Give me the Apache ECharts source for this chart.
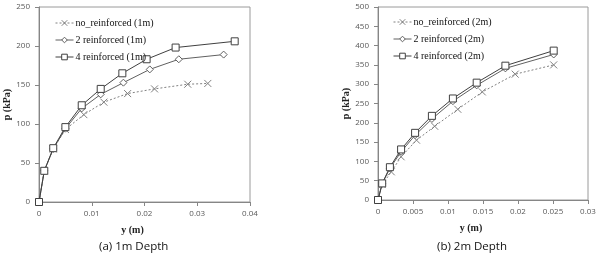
<!DOCTYPE html>
<html><head><meta charset="utf-8">
<script src="https://cdn.jsdelivr.net/npm/echarts@6/dist/echarts.min.js"></script>
<style>html,body{margin:0;padding:0;background:#fff}#c{width:600px;height:258px}</style>
</head><body><div id="c"></div>
<script>
// ---- data: (a) 1m depth ----
const a_no_x = [0, 0.001, 0.0027, 0.005, 0.0085, 0.0123, 0.0168, 0.0219, 0.0282, 0.032];
const a_no_y = [0, 40, 68, 93, 112, 128, 139, 145, 151, 152];
const a_2_x = [0, 0.001, 0.0027, 0.005, 0.0081, 0.0117, 0.016, 0.021, 0.0265, 0.035];
const a_2_y = [0, 40, 68, 94, 120, 138, 153, 170, 183, 189];
const a_4_x = [0, 0.001, 0.0027, 0.005, 0.0081, 0.0117, 0.0158, 0.0204, 0.0259, 0.0371];
const a_4_y = [0, 40, 69, 96, 124, 145, 165, 183, 198, 206];
// ---- data: (b) 2m depth ----
const b_no_x = [0, 0.0006, 0.0019, 0.0033, 0.0055, 0.0081, 0.0114, 0.0149, 0.0196, 0.0251];
const b_no_y = [0, 40, 73, 112, 155, 191, 235, 280, 326, 350];
const b_2_x = [0, 0.0006, 0.0017, 0.0033, 0.0053, 0.0077, 0.0107, 0.0141, 0.0182, 0.0251];
const b_2_y = [0, 42, 82, 125, 168, 210, 256, 297, 341, 377];
const b_4_x = [0, 0.0006, 0.0017, 0.0033, 0.0053, 0.0077, 0.0107, 0.0141, 0.0182, 0.0251];
const b_4_y = [0, 43, 85, 131, 174, 218, 263, 304, 348, 387];
const names_a = ['no_reinforced (1m)', '2 reinforced (1m)', '4 reinforced (1m)'];
const names_b = ['no_reinforced (2m)', '2 reinforced (2m)', '4 reinforced (2m)'];
const captions = ['(a) 1m Depth', '(b) 2m Depth'];
const xTitle = 'y (m)';
const yTitle = 'p (kPa)';

const pairs = (xs, ys) => xs.map((x, i) => [x, ys[i]]);
const CROSS = 'path://M0,0L10,10M10,0L0,10';
const serif = '"Liberation Serif","DejaVu Serif",serif';
const sans = '"Open Sans","Noto Sans",sans-serif';

function mkSeries(name, data, idx, kind) {
  const s = { name, type: 'line', data, xAxisIndex: idx, yAxisIndex: idx, animation: false, z: kind === 'no' ? 2 : 3 };
  if (kind === 'no') {
    Object.assign(s, { symbol: CROSS, symbolSize: 7, color: '#808080',
      lineStyle: { color: '#808080', width: 1, type: [2, 2] },
      itemStyle: { color: 'rgba(0,0,0,0)', borderColor: '#808080', borderWidth: 1 } });
  } else if (kind === '2') {
    Object.assign(s, { symbol: 'diamond', symbolSize: [7, 7], color: '#606060',
      lineStyle: { color: '#606060', width: 1 },
      itemStyle: { color: '#fff', borderColor: '#606060', borderWidth: 1 } });
  } else {
    Object.assign(s, { symbol: 'rect', symbolSize: 7, color: '#404040',
      lineStyle: { color: '#404040', width: 1 },
      itemStyle: { color: '#fff', borderColor: '#404040', borderWidth: 1 } });
  }
  return s;
}

function xAx(idx, max, interval) {
  return { type: 'value', gridIndex: idx, min: 0, max, interval,
    name: xTitle, nameLocation: 'middle', nameGap: 23,
    nameTextStyle: { fontFamily: serif, fontSize: 10, fontWeight: 'bold', color: '#222', padding: [0, 24, 0, 0] },
    axisLine: { show: true, onZero: false, lineStyle: { color: '#868686' } },
    axisTick: { show: true, inside: false, length: 4, lineStyle: { color: '#868686' } },
    axisLabel: { fontFamily: sans, fontSize: 8, color: '#595959', margin: 8 },
    splitLine: { show: false } };
}
function yAx(idx, max, interval) {
  return { type: 'value', gridIndex: idx, min: 0, max, interval,
    name: yTitle, nameLocation: 'middle', nameGap: 24, nameRotate: 90,
    nameTextStyle: { fontFamily: serif, fontSize: 10, fontWeight: 'bold', color: '#222' },
    axisLine: { show: true, onZero: false, lineStyle: { color: '#868686' } },
    axisTick: { show: true, inside: false, length: 4, lineStyle: { color: '#868686' } },
    axisLabel: { fontFamily: sans, fontSize: 8, color: '#595959', margin: 9 },
    splitLine: { show: false } };
}

const legendCommon = { orient: 'vertical', itemWidth: 18, itemHeight: 7, itemGap: 7,
  itemStyle: { borderWidth: 1 }, lineStyle: { width: 1 },
  textStyle: { fontFamily: serif, fontSize: 10, color: '#111', padding: [0, 0, 0, -3] }, selectedMode: false };

const chart = echarts.init(document.getElementById('c'), null, { renderer: 'canvas' });
chart.setOption({
  animation: false,
  backgroundColor: '#fff',
  grid: [
    { left: 39, top: 7, width: 211, height: 195, show: true, borderColor: '#9a9a9a', borderWidth: 1 },
    { left: 378, top: 7, width: 210, height: 193, show: true, borderColor: '#9a9a9a', borderWidth: 1 }
  ],
  xAxis: [xAx(0, 0.04, 0.01), xAx(1, 0.03, 0.005)],
  yAxis: [yAx(0, 250, 50), yAx(1, 500, 50)],
  legend: [
    Object.assign({ data: names_a, left: 50, top: 13 }, legendCommon),
    Object.assign({ data: names_b, left: 388, top: 12 }, legendCommon)
  ],
  graphic: [
    { type: 'text', left: 99, top: 241, style: { text: captions[0], font: '11.5px "Open Sans", sans-serif', fill: '#111' } },
    { type: 'text', left: 437, top: 241, style: { text: captions[1], font: '11.5px "Open Sans", sans-serif', fill: '#111' } }
  ],
  series: [
    mkSeries(names_a[0], pairs(a_no_x, a_no_y), 0, 'no'),
    mkSeries(names_a[1], pairs(a_2_x, a_2_y), 0, '2'),
    mkSeries(names_a[2], pairs(a_4_x, a_4_y), 0, '4'),
    mkSeries(names_b[0], pairs(b_no_x, b_no_y), 1, 'no'),
    mkSeries(names_b[1], pairs(b_2_x, b_2_y), 1, '2'),
    mkSeries(names_b[2], pairs(b_4_x, b_4_y), 1, '4')
  ]
});
</script></body></html>
